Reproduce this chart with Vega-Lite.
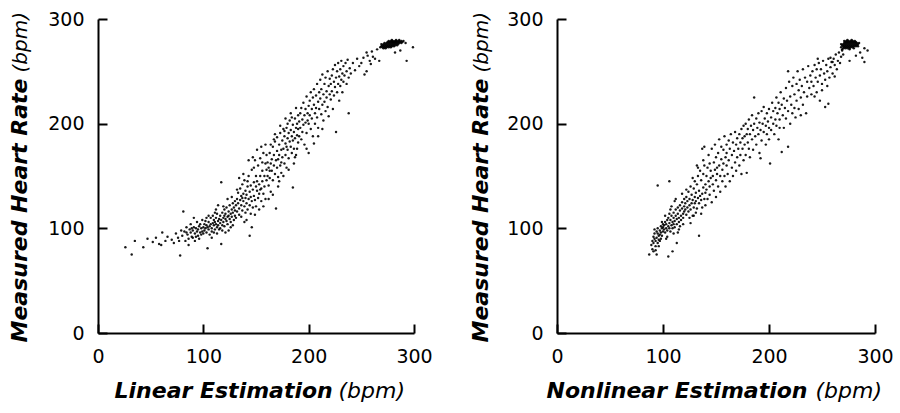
{
  "$schema": "https://vega.github.io/schema/vega-lite/v6.json",
  "background": "white",
  "padding": {"left": 7, "top": 10, "right": 5, "bottom": 5},
  "spacing": 35,
  "config": {
    "view": {"stroke": null},
    "font": "DejaVu Sans",
    "axis": {
      "grid": false,
      "domainColor": "black",
      "domainWidth": 2,
      "tickColor": "black",
      "tickWidth": 2,
      "tickSize": -9,
      "labelFont": "DejaVu Sans",
      "labelFontSize": 19,
      "labelColor": "black",
      "labelFlush": false,
      "labelPadding": 23,
      "titleFont": "DejaVu Sans",
      "titleFontSize": 22,
      "titleFontWeight": "bold",
      "titleFontStyle": "italic",
      "titleColor": "black"
    }
  },
  "datasets": {
    "linear": [
      {"x":26,"y":82},{"x":32,"y":75},{"x":35,"y":88},{"x":43,"y":82},{"x":47,"y":90},{"x":52,"y":87},{"x":55,"y":91},{"x":58,"y":85},{"x":60,"y":84},{"x":61,"y":96},{"x":64,"y":88},{"x":66,"y":92},{"x":70,"y":89},{"x":72,"y":86},{"x":74,"y":95},{"x":76,"y":91},{"x":78,"y":74},{"x":79,"y":98},{"x":81,"y":116},{"x":77,"y":88},
      {"x":80,"y":93},{"x":82,"y":97},{"x":83,"y":88},{"x":84,"y":101},{"x":85,"y":94},{"x":86,"y":90},{"x":87,"y":99},{"x":88,"y":96},{"x":88,"y":104},{"x":89,"y":92},{"x":90,"y":98},{"x":90,"y":91},{"x":91,"y":101},{"x":92,"y":95},{"x":92,"y":88},{"x":93,"y":100},{"x":94,"y":97},{"x":94,"y":106},{"x":95,"y":93},{"x":95,"y":99},{"x":96,"y":102},{"x":96,"y":90},{"x":97,"y":96},{"x":97,"y":104},{"x":98,"y":100},{"x":98,"y":94},{"x":99,"y":97},{"x":99,"y":108},{"x":100,"y":101},{"x":100,"y":95},{"x":86,"y":84},{"x":91,"y":110},{"x":84,"y":96},{"x":93,"y":92},{"x":89,"y":100},
      {"x":101,"y":104},{"x":101,"y":98},{"x":102,"y":100},{"x":102,"y":107},{"x":103,"y":96},{"x":103,"y":103},{"x":104,"y":81},{"x":104,"y":101},{"x":105,"y":99},{"x":105,"y":106},{"x":106,"y":102},{"x":106,"y":94},{"x":107,"y":104},{"x":107,"y":110},{"x":108,"y":100},{"x":108,"y":97},{"x":109,"y":105},{"x":109,"y":112},{"x":110,"y":103},{"x":110,"y":108},{"x":111,"y":99},{"x":111,"y":106},{"x":112,"y":104},{"x":112,"y":110},{"x":113,"y":101},{"x":113,"y":114},{"x":114,"y":107},{"x":114,"y":103},{"x":115,"y":109},{"x":115,"y":99},{"x":116,"y":112},{"x":116,"y":105},{"x":117,"y":85},{"x":117,"y":144},{"x":117,"y":108},{"x":118,"y":103},{"x":118,"y":115},{"x":119,"y":110},{"x":119,"y":106},{"x":120,"y":112},{"x":120,"y":102},{"x":120,"y":118},{"x":121,"y":109},{"x":121,"y":114},{"x":122,"y":107},{"x":122,"y":120},{"x":123,"y":111},{"x":123,"y":104},{"x":124,"y":116},{"x":124,"y":112},{"x":125,"y":109},{"x":125,"y":122},{"x":126,"y":114},{"x":126,"y":106},{"x":127,"y":118},{"x":127,"y":111},{"x":128,"y":124},{"x":128,"y":115},{"x":129,"y":108},{"x":129,"y":120},{"x":130,"y":117},{"x":130,"y":126},{"x":130,"y":112},{"x":110,"y":96},{"x":112,"y":118},{"x":114,"y":122},{"x":118,"y":98},{"x":121,"y":96},{"x":123,"y":128},{"x":126,"y":101},{"x":127,"y":130},{"x":105,"y":112},{"x":108,"y":91},{"x":103,"y":110},{"x":116,"y":100},{"x":119,"y":121},{"x":124,"y":98},{"x":128,"y":103},{"x":111,"y":115},{"x":113,"y":95},
      {"x":131,"y":122},{"x":131,"y":110},{"x":132,"y":128},{"x":132,"y":116},{"x":133,"y":124},{"x":133,"y":134},{"x":134,"y":119},{"x":134,"y":113},{"x":135,"y":127},{"x":135,"y":138},{"x":136,"y":122},{"x":136,"y":131},{"x":137,"y":117},{"x":137,"y":142},{"x":138,"y":126},{"x":138,"y":133},{"x":139,"y":121},{"x":139,"y":146},{"x":140,"y":129},{"x":140,"y":136},{"x":140,"y":115},{"x":141,"y":132},{"x":141,"y":124},{"x":142,"y":140},{"x":142,"y":118},{"x":143,"y":128},{"x":143,"y":150},{"x":144,"y":93},{"x":144,"y":135},{"x":144,"y":122},{"x":145,"y":141},{"x":145,"y":130},{"x":146,"y":126},{"x":146,"y":156},{"x":147,"y":137},{"x":147,"y":120},{"x":148,"y":144},{"x":148,"y":131},{"x":149,"y":165},{"x":149,"y":127},{"x":150,"y":140},{"x":150,"y":150},{"x":150,"y":121},{"x":151,"y":136},{"x":151,"y":145},{"x":152,"y":160},{"x":152,"y":129},{"x":153,"y":142},{"x":153,"y":133},{"x":154,"y":167},{"x":154,"y":150},{"x":155,"y":138},{"x":155,"y":126},{"x":156,"y":155},{"x":156,"y":145},{"x":157,"y":133},{"x":157,"y":172},{"x":158,"y":150},{"x":158,"y":140},{"x":159,"y":162},{"x":159,"y":128},{"x":160,"y":156},{"x":160,"y":146},{"x":160,"y":170},{"x":134,"y":148},{"x":136,"y":111},{"x":138,"y":152},{"x":141,"y":108},{"x":143,"y":165},{"x":145,"y":114},{"x":147,"y":168},{"x":149,"y":113},{"x":151,"y":175},{"x":153,"y":118},{"x":155,"y":178},{"x":157,"y":121},{"x":159,"y":180},{"x":146,"y":101},{"x":139,"y":106},{"x":148,"y":158},{"x":154,"y":137},{"x":137,"y":129},{"x":142,"y":145},{"x":156,"y":163},{"x":132,"y":137},
      {"x":161,"y":150},{"x":161,"y":163},{"x":162,"y":141},{"x":162,"y":158},{"x":163,"y":172},{"x":163,"y":148},{"x":164,"y":162},{"x":164,"y":135},{"x":165,"y":166},{"x":165,"y":155},{"x":166,"y":178},{"x":166,"y":146},{"x":167,"y":160},{"x":167,"y":170},{"x":168,"y":152},{"x":168,"y":183},{"x":169,"y":119},{"x":169,"y":165},{"x":170,"y":174},{"x":170,"y":158},{"x":170,"y":187},{"x":171,"y":166},{"x":171,"y":149},{"x":172,"y":180},{"x":172,"y":170},{"x":173,"y":160},{"x":173,"y":191},{"x":174,"y":175},{"x":174,"y":153},{"x":175,"y":184},{"x":175,"y":168},{"x":176,"y":195},{"x":176,"y":176},{"x":177,"y":162},{"x":177,"y":188},{"x":178,"y":181},{"x":178,"y":170},{"x":179,"y":196},{"x":179,"y":158},{"x":180,"y":186},{"x":180,"y":175},{"x":180,"y":200},{"x":181,"y":191},{"x":181,"y":167},{"x":182,"y":183},{"x":182,"y":203},{"x":183,"y":178},{"x":183,"y":194},{"x":184,"y":172},{"x":184,"y":188},{"x":185,"y":139},{"x":185,"y":199},{"x":185,"y":184},{"x":186,"y":192},{"x":186,"y":176},{"x":187,"y":205},{"x":187,"y":186},{"x":188,"y":196},{"x":188,"y":170},{"x":189,"y":200},{"x":189,"y":189},{"x":190,"y":208},{"x":190,"y":195},{"x":190,"y":182},{"x":162,"y":128},{"x":164,"y":180},{"x":166,"y":132},{"x":168,"y":190},{"x":171,"y":140},{"x":173,"y":198},{"x":176,"y":150},{"x":178,"y":205},{"x":181,"y":156},{"x":183,"y":210},{"x":186,"y":162},{"x":188,"y":215},{"x":174,"y":163},{"x":179,"y":178},{"x":167,"y":185},{"x":163,"y":155},{"x":172,"y":145},{"x":177,"y":193},{"x":184,"y":206},{"x":187,"y":168},{"x":189,"y":176},
      {"x":191,"y":202},{"x":191,"y":188},{"x":192,"y":210},{"x":192,"y":196},{"x":193,"y":185},{"x":193,"y":215},{"x":194,"y":204},{"x":194,"y":192},{"x":195,"y":220},{"x":195,"y":199},{"x":196,"y":208},{"x":196,"y":180},{"x":197,"y":214},{"x":197,"y":201},{"x":198,"y":226},{"x":198,"y":191},{"x":199,"y":210},{"x":199,"y":203},{"x":200,"y":217},{"x":200,"y":200},{"x":200,"y":172},{"x":201,"y":222},{"x":201,"y":208},{"x":202,"y":230},{"x":202,"y":195},{"x":203,"y":214},{"x":203,"y":205},{"x":204,"y":225},{"x":204,"y":188},{"x":205,"y":218},{"x":205,"y":233},{"x":206,"y":210},{"x":206,"y":200},{"x":207,"y":227},{"x":207,"y":215},{"x":208,"y":238},{"x":208,"y":206},{"x":209,"y":221},{"x":209,"y":196},{"x":210,"y":230},{"x":210,"y":214},{"x":211,"y":242},{"x":211,"y":224},{"x":212,"y":209},{"x":212,"y":233},{"x":213,"y":218},{"x":213,"y":247},{"x":214,"y":203},{"x":214,"y":228},{"x":215,"y":238},{"x":215,"y":221},{"x":216,"y":212},{"x":216,"y":244},{"x":217,"y":231},{"x":217,"y":225},{"x":218,"y":250},{"x":218,"y":216},{"x":219,"y":236},{"x":219,"y":207},{"x":220,"y":243},{"x":220,"y":228},{"x":198,"y":176},{"x":205,"y":181},{"x":209,"y":188},{"x":213,"y":195},
      {"x":221,"y":238},{"x":221,"y":223},{"x":222,"y":246},{"x":222,"y":231},{"x":223,"y":214},{"x":223,"y":252},{"x":224,"y":240},{"x":224,"y":227},{"x":225,"y":256},{"x":225,"y":235},{"x":226,"y":244},{"x":226,"y":192},{"x":227,"y":230},{"x":227,"y":250},{"x":228,"y":238},{"x":228,"y":258},{"x":229,"y":245},{"x":229,"y":222},{"x":230,"y":252},{"x":230,"y":236},{"x":231,"y":242},{"x":231,"y":260},{"x":232,"y":248},{"x":232,"y":230},{"x":233,"y":255},{"x":233,"y":240},{"x":234,"y":246},{"x":235,"y":258},{"x":236,"y":238},{"x":236,"y":250},{"x":237,"y":261},{"x":238,"y":210},{"x":238,"y":244},{"x":239,"y":253},{"x":240,"y":248},{"x":242,"y":258},{"x":244,"y":251},{"x":246,"y":262},{"x":248,"y":255},{"x":250,"y":258},
      {"x":252,"y":263},{"x":253,"y":247},{"x":255,"y":250},{"x":256,"y":265},{"x":258,"y":260},{"x":259,"y":257},{"x":261,"y":264},{"x":263,"y":262},{"x":255,"y":268},{"x":260,"y":269},
      {"x":268,"y":273},{"x":269,"y":274},{"x":270,"y":273},{"x":270,"y":275},{"x":271,"y":274},{"x":271,"y":276},{"x":272,"y":273},{"x":272,"y":275},{"x":272,"y":277},{"x":273,"y":274},{"x":273,"y":276},{"x":274,"y":273},{"x":274,"y":275},{"x":274,"y":277},{"x":275,"y":274},{"x":275,"y":276},{"x":275,"y":278},{"x":276,"y":273},{"x":276,"y":275},{"x":276,"y":277},{"x":277,"y":274},{"x":277,"y":276},{"x":277,"y":278},{"x":278,"y":275},{"x":278,"y":277},{"x":278,"y":279},{"x":279,"y":274},{"x":279,"y":276},{"x":279,"y":278},{"x":280,"y":275},{"x":280,"y":277},{"x":280,"y":279},{"x":281,"y":276},{"x":281,"y":278},{"x":282,"y":275},{"x":282,"y":277},{"x":282,"y":279},{"x":283,"y":276},{"x":283,"y":278},{"x":284,"y":277},{"x":284,"y":279},{"x":285,"y":276},{"x":285,"y":278},{"x":286,"y":277},{"x":286,"y":279},{"x":287,"y":278},{"x":288,"y":277},{"x":288,"y":279},{"x":289,"y":278},{"x":290,"y":279},{"x":273,"y":272},{"x":276,"y":279},{"x":279,"y":280},{"x":283,"y":280},{"x":281,"y":274},{"x":284,"y":275},{"x":269,"y":276},{"x":286,"y":280},{"x":278,"y":273},{"x":271,"y":272},
      {"x":267,"y":260},{"x":282,"y":268},{"x":293,"y":260},{"x":299,"y":273},{"x":292,"y":277},{"x":265,"y":271},{"x":287,"y":270}
    ],
    "nonlinear": [
      {"x":87,"y":75},{"x":94,"y":75},{"x":89,"y":84},{"x":90,"y":88},{"x":90,"y":80},{"x":91,"y":92},{"x":91,"y":86},{"x":92,"y":90},{"x":92,"y":95},{"x":93,"y":83},{"x":93,"y":88},{"x":94,"y":97},{"x":94,"y":91},{"x":95,"y":86},{"x":95,"y":141},{"x":95,"y":100},{"x":96,"y":93},{"x":96,"y":89},{"x":97,"y":98},{"x":97,"y":94},{"x":98,"y":102},{"x":98,"y":90},{"x":98,"y":96},{"x":99,"y":100},{"x":99,"y":93},{"x":100,"y":104},{"x":100,"y":97},{"x":100,"y":101},{"x":93,"y":79},{"x":96,"y":83},{"x":99,"y":106},{"x":97,"y":88},{"x":92,"y":99},{"x":95,"y":95},{"x":91,"y":78},
      {"x":101,"y":99},{"x":101,"y":103},{"x":102,"y":96},{"x":102,"y":106},{"x":103,"y":100},{"x":103,"y":104},{"x":104,"y":98},{"x":104,"y":108},{"x":105,"y":73},{"x":105,"y":102},{"x":105,"y":110},{"x":106,"y":145},{"x":106,"y":100},{"x":106,"y":105},{"x":107,"y":97},{"x":107,"y":108},{"x":108,"y":103},{"x":108,"y":112},{"x":109,"y":78},{"x":109,"y":106},{"x":109,"y":100},{"x":110,"y":110},{"x":110,"y":104},{"x":110,"y":115},{"x":111,"y":107},{"x":111,"y":101},{"x":112,"y":112},{"x":112,"y":118},{"x":113,"y":86},{"x":113,"y":109},{"x":113,"y":104},{"x":114,"y":114},{"x":114,"y":120},{"x":115,"y":110},{"x":115,"y":106},{"x":116,"y":117},{"x":116,"y":122},{"x":117,"y":112},{"x":117,"y":108},{"x":118,"y":119},{"x":118,"y":125},{"x":119,"y":114},{"x":119,"y":110},{"x":120,"y":121},{"x":120,"y":116},{"x":120,"y":128},{"x":102,"y":112},{"x":104,"y":92},{"x":107,"y":118},{"x":110,"y":95},{"x":112,"y":128},{"x":115,"y":99},{"x":118,"y":133},{"x":103,"y":90},{"x":108,"y":121},{"x":116,"y":102},{"x":111,"y":126},{"x":119,"y":104},{"x":106,"y":114},{"x":114,"y":96},
      {"x":121,"y":118},{"x":121,"y":124},{"x":122,"y":113},{"x":122,"y":130},{"x":123,"y":120},{"x":123,"y":126},{"x":124,"y":116},{"x":124,"y":135},{"x":125,"y":122},{"x":125,"y":128},{"x":126,"y":118},{"x":126,"y":140},{"x":127,"y":124},{"x":127,"y":132},{"x":128,"y":112},{"x":128,"y":127},{"x":129,"y":138},{"x":129,"y":120},{"x":130,"y":130},{"x":130,"y":124},{"x":130,"y":145},{"x":131,"y":126},{"x":131,"y":134},{"x":132,"y":119},{"x":132,"y":142},{"x":133,"y":129},{"x":133,"y":150},{"x":134,"y":93},{"x":134,"y":124},{"x":134,"y":136},{"x":135,"y":131},{"x":135,"y":155},{"x":136,"y":127},{"x":136,"y":146},{"x":137,"y":133},{"x":137,"y":120},{"x":138,"y":152},{"x":138,"y":139},{"x":139,"y":128},{"x":139,"y":160},{"x":140,"y":142},{"x":140,"y":134},{"x":140,"y":122},{"x":122,"y":137},{"x":125,"y":110},{"x":128,"y":148},{"x":131,"y":115},{"x":133,"y":158},{"x":136,"y":114},{"x":138,"y":165},{"x":139,"y":178},{"x":137,"y":176},{"x":126,"y":105},{"x":129,"y":112},{"x":132,"y":160},
      {"x":141,"y":137},{"x":141,"y":150},{"x":142,"y":128},{"x":142,"y":158},{"x":143,"y":145},{"x":143,"y":170},{"x":144,"y":140},{"x":144,"y":132},{"x":145,"y":155},{"x":145,"y":148},{"x":146,"y":125},{"x":146,"y":176},{"x":147,"y":150},{"x":147,"y":142},{"x":148,"y":163},{"x":148,"y":136},{"x":149,"y":156},{"x":149,"y":180},{"x":150,"y":146},{"x":150,"y":168},{"x":150,"y":130},{"x":151,"y":158},{"x":151,"y":152},{"x":152,"y":172},{"x":152,"y":140},{"x":153,"y":160},{"x":153,"y":185},{"x":154,"y":150},{"x":154,"y":135},{"x":155,"y":166},{"x":155,"y":178},{"x":156,"y":156},{"x":156,"y":145},{"x":157,"y":175},{"x":157,"y":162},{"x":158,"y":188},{"x":158,"y":150},{"x":159,"y":168},{"x":159,"y":140},{"x":160,"y":180},{"x":160,"y":160},{"x":160,"y":172},{"x":161,"y":152},{"x":162,"y":184},{"x":162,"y":165},{"x":163,"y":176},{"x":163,"y":145},{"x":164,"y":190},{"x":165,"y":170},{"x":165,"y":158},{"x":166,"y":182},{"x":166,"y":150},{"x":167,"y":174},{"x":168,"y":192},{"x":168,"y":163},{"x":169,"y":180},{"x":169,"y":155},{"x":170,"y":186},{"x":170,"y":168},{"x":144,"y":162},
      {"x":171,"y":176},{"x":172,"y":190},{"x":172,"y":160},{"x":173,"y":182},{"x":173,"y":170},{"x":174,"y":195},{"x":174,"y":152},{"x":175,"y":186},{"x":175,"y":176},{"x":176,"y":198},{"x":176,"y":165},{"x":177,"y":188},{"x":177,"y":180},{"x":178,"y":200},{"x":178,"y":170},{"x":179,"y":153},{"x":179,"y":190},{"x":180,"y":195},{"x":180,"y":182},{"x":181,"y":204},{"x":181,"y":176},{"x":182,"y":190},{"x":182,"y":168},{"x":183,"y":198},{"x":184,"y":185},{"x":184,"y":208},{"x":185,"y":194},{"x":185,"y":175},{"x":186,"y":225},{"x":186,"y":200},{"x":187,"y":188},{"x":188,"y":205},{"x":188,"y":180},{"x":189,"y":196},{"x":190,"y":210},{"x":190,"y":190},{"x":191,"y":172},{"x":191,"y":201},{"x":192,"y":167},{"x":192,"y":194},{"x":193,"y":212},{"x":193,"y":184},{"x":194,"y":200},{"x":195,"y":192},{"x":195,"y":216},{"x":196,"y":205},{"x":197,"y":180},{"x":197,"y":198},{"x":198,"y":210},{"x":198,"y":190},{"x":199,"y":202},{"x":200,"y":196},{"x":200,"y":214},{"x":201,"y":162},{"x":200,"y":185},
      {"x":202,"y":206},{"x":202,"y":194},{"x":203,"y":220},{"x":204,"y":200},{"x":204,"y":212},{"x":205,"y":190},{"x":206,"y":215},{"x":206,"y":204},{"x":207,"y":225},{"x":207,"y":198},{"x":208,"y":210},{"x":209,"y":220},{"x":209,"y":185},{"x":210,"y":214},{"x":210,"y":204},{"x":211,"y":230},{"x":212,"y":218},{"x":212,"y":173},{"x":213,"y":208},{"x":214,"y":224},{"x":214,"y":196},{"x":215,"y":215},{"x":216,"y":234},{"x":216,"y":205},{"x":217,"y":222},{"x":218,"y":178},{"x":218,"y":212},{"x":219,"y":240},{"x":220,"y":226},{"x":220,"y":200},{"x":221,"y":218},{"x":222,"y":236},{"x":222,"y":210},{"x":223,"y":244},{"x":224,"y":228},{"x":224,"y":215},{"x":225,"y":206},{"x":226,"y":238},{"x":226,"y":222},{"x":227,"y":250},{"x":228,"y":232},{"x":228,"y":214},{"x":229,"y":242},{"x":230,"y":225},{"x":231,"y":236},{"x":232,"y":252},{"x":232,"y":218},{"x":233,"y":230},{"x":234,"y":244},{"x":235,"y":210},{"x":236,"y":240},{"x":236,"y":226},{"x":237,"y":255},{"x":238,"y":234},{"x":239,"y":246},{"x":240,"y":228},{"x":240,"y":240},{"x":230,"y":208},{"x":218,"y":250},{"x":210,"y":196},
      {"x":241,"y":250},{"x":242,"y":236},{"x":243,"y":256},{"x":244,"y":244},{"x":245,"y":230},{"x":245,"y":252},{"x":246,"y":240},{"x":247,"y":258},{"x":248,"y":246},{"x":248,"y":222},{"x":249,"y":252},{"x":250,"y":238},{"x":251,"y":260},{"x":252,"y":248},{"x":253,"y":216},{"x":253,"y":242},{"x":254,"y":256},{"x":255,"y":250},{"x":256,"y":219},{"x":256,"y":262},{"x":257,"y":244},{"x":258,"y":254},{"x":259,"y":259},{"x":260,"y":248},{"x":261,"y":262},{"x":262,"y":256},{"x":263,"y":266},{"x":264,"y":252},{"x":265,"y":260},{"x":266,"y":268},{"x":267,"y":258},{"x":268,"y":264},{"x":269,"y":270},{"x":262,"y":245},{"x":258,"y":263},{"x":250,"y":232},{"x":246,"y":262},{"x":243,"y":226},{"x":255,"y":236},{"x":270,"y":266},
      {"x":268,"y":273},{"x":269,"y":275},{"x":270,"y":272},{"x":270,"y":274},{"x":270,"y":276},{"x":271,"y":273},{"x":271,"y":275},{"x":271,"y":277},{"x":272,"y":272},{"x":272,"y":274},{"x":272,"y":276},{"x":272,"y":278},{"x":273,"y":273},{"x":273,"y":275},{"x":273,"y":277},{"x":274,"y":272},{"x":274,"y":274},{"x":274,"y":276},{"x":274,"y":278},{"x":275,"y":273},{"x":275,"y":275},{"x":275,"y":277},{"x":275,"y":279},{"x":276,"y":272},{"x":276,"y":274},{"x":276,"y":276},{"x":276,"y":278},{"x":277,"y":273},{"x":277,"y":275},{"x":277,"y":277},{"x":277,"y":279},{"x":278,"y":274},{"x":278,"y":276},{"x":278,"y":278},{"x":279,"y":273},{"x":279,"y":275},{"x":279,"y":277},{"x":279,"y":279},{"x":280,"y":274},{"x":280,"y":276},{"x":280,"y":278},{"x":281,"y":275},{"x":281,"y":277},{"x":282,"y":274},{"x":282,"y":276},{"x":282,"y":278},{"x":283,"y":275},{"x":283,"y":277},{"x":284,"y":276},{"x":269,"y":271},{"x":273,"y":279},{"x":278,"y":280},{"x":281,"y":279},{"x":276,"y":271},{"x":284,"y":274},{"x":285,"y":277},{"x":271,"y":279},{"x":280,"y":272},{"x":274,"y":280},{"x":268,"y":276},
      {"x":290,"y":259},{"x":290,"y":272},{"x":282,"y":265},{"x":276,"y":260},{"x":260,"y":259},{"x":286,"y":268},{"x":293,"y":270},{"x":288,"y":263}
    ]
  },
  "hconcat": [
    {
      "data": {"name": "linear"},
      "width": 316,
      "height": 314,
      "layer": [
        {
          "mark": {"type": "circle", "size": 6, "color": "black", "opacity": 0.9},
          "encoding": {
            "x": {"field": "x", "type": "quantitative", "scale": {"domain": [0, 300]}, "axis": {"title": "Linear Estimation", "values": [0, 100, 200, 300], "titleX": 16, "titleY": 64, "titleAlign": "left", "titleBaseline": "alphabetic", "titleAngle": 0}},
            "y": {"field": "y", "type": "quantitative", "scale": {"domain": [0, 300]}, "axis": {"title": "Measured Heart Rate", "values": [0, 100, 200, 300], "titleX": -72, "titleY": 323, "titleAlign": "left", "titleBaseline": "alphabetic", "titleAngle": 270}}
          }
        },
        {
          "mark": {"type": "circle", "size": 6, "color": "black", "opacity": 0},
          "encoding": {
            "x": {"field": "x", "type": "quantitative", "scale": {"domain": [0, 300]}, "axis": {"orient": "top", "title": "(bpm)", "domain": false, "ticks": false, "labels": false, "titleFontWeight": "normal", "titleFontSize": 22, "titleX": 240, "titleY": 378, "titleAlign": "left", "titleBaseline": "alphabetic", "titleAngle": 0}},
            "y": {"field": "y", "type": "quantitative", "scale": {"domain": [0, 300]}, "axis": {"orient": "right", "title": "(bpm)", "domain": false, "ticks": false, "labels": false, "titleFontWeight": "normal", "titleFontSize": 20, "titleX": -388, "titleY": 53, "titleAlign": "left", "titleBaseline": "alphabetic", "titleAngle": 270}}
          }
        }
      ],
      "resolve": {"axis": {"x": "independent", "y": "independent"}}
    },
    {
      "data": {"name": "nonlinear"},
      "width": 318,
      "height": 314,
      "layer": [
        {
          "mark": {"type": "circle", "size": 6, "color": "black", "opacity": 0.9},
          "encoding": {
            "x": {"field": "x", "type": "quantitative", "scale": {"domain": [0, 300]}, "axis": {"title": "Nonlinear Estimation", "values": [0, 100, 200, 300], "titleX": -11, "titleY": 64, "titleAlign": "left", "titleBaseline": "alphabetic", "titleAngle": 0}},
            "y": {"field": "y", "type": "quantitative", "scale": {"domain": [0, 300]}, "axis": {"title": "Measured Heart Rate", "values": [0, 100, 200, 300], "titleX": -70, "titleY": 323, "titleAlign": "left", "titleBaseline": "alphabetic", "titleAngle": 270}}
          }
        },
        {
          "mark": {"type": "circle", "size": 6, "color": "black", "opacity": 0},
          "encoding": {
            "x": {"field": "x", "type": "quantitative", "scale": {"domain": [0, 300]}, "axis": {"orient": "top", "title": "(bpm)", "domain": false, "ticks": false, "labels": false, "titleFontWeight": "normal", "titleFontSize": 22, "titleX": 258, "titleY": 378, "titleAlign": "left", "titleBaseline": "alphabetic", "titleAngle": 0}},
            "y": {"field": "y", "type": "quantitative", "scale": {"domain": [0, 300]}, "axis": {"orient": "right", "title": "(bpm)", "domain": false, "ticks": false, "labels": false, "titleFontWeight": "normal", "titleFontSize": 20, "titleX": -388, "titleY": 53, "titleAlign": "left", "titleBaseline": "alphabetic", "titleAngle": 270}}
          }
        }
      ],
      "resolve": {"axis": {"x": "independent", "y": "independent"}}
    }
  ]
}
